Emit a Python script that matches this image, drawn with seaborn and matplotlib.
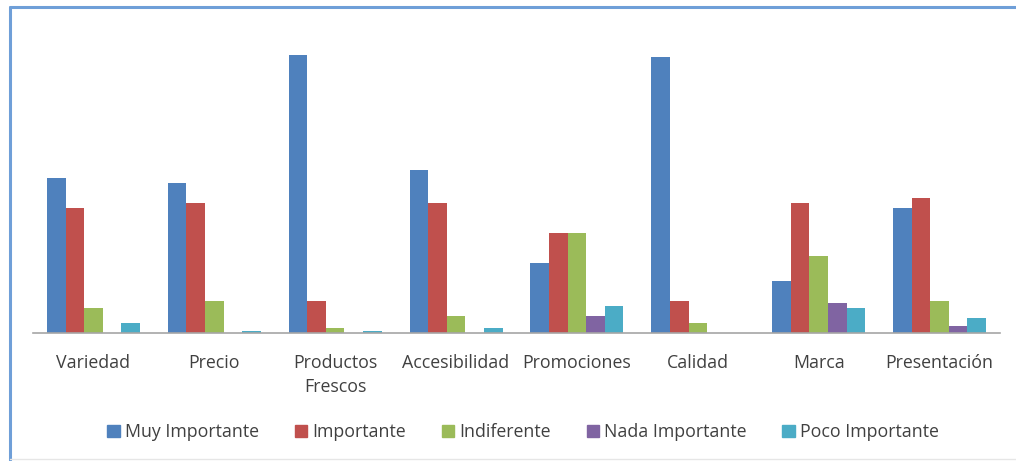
import pandas as pd
import seaborn as sns
import matplotlib.pyplot as plt
from matplotlib.lines import Line2D

# categories and series (bar heights)
categorias = ["Variedad", "Precio", "Productos\nFrescos", "Accesibilidad",
              "Promociones", "Calidad", "Marca", "Presentación"]
series = ["Muy Importante", "Importante", "Indiferente", "Nada Importante", "Poco Importante"]

muy_importante = [155, 150, 278, 163, 70, 276, 52, 125]
importante = [125, 130, 32, 130, 100, 32, 130, 135]
indiferente = [25, 32, 5, 17, 100, 10, 77, 32]
nada_importante = [0, 0, 0, 0, 17, 0, 30, 7]
poco_importante = [10, 2, 2, 5, 27, 0, 25, 15]

colores = ["#4F81BD", "#C0504D", "#9BBB59", "#8064A2", "#4BACC6"]

valores = [muy_importante, importante, indiferente, nada_importante, poco_importante]
filas = []
for s, vals in zip(series, valores):
    for c, v in zip(categorias, vals):
        filas.append({"Categoria": c, "Serie": s, "Valor": v})
df = pd.DataFrame(filas)

sns.set_style("white")
plt.rcParams['font.family'] = ['Open Sans', 'DejaVu Sans']

fig = plt.figure(figsize=(10.16, 4.61), dpi=100)
ax = fig.add_axes([33/1016, 1 - 333/461, (1000 - 33)/1016, (333 - 20)/461])

sns.barplot(data=df, x="Categoria", y="Valor", hue="Serie", palette=colores,
            width=0.77, gap=0, saturation=1, linewidth=0, ax=ax, legend=False)

ax.set_ylim(0, 313)
ax.set_xlim(-0.5, len(categorias) - 0.5)
ax.set_xlabel("")
ax.set_ylabel("")
ax.set_yticks([])
for s in ["top", "right", "left"]:
    ax.spines[s].set_visible(False)
ax.spines["bottom"].set_color("#a6a6a6")
ax.spines["bottom"].set_linewidth(1.2)

# category labels centred, tick marks at the boundaries
ax.set_xticks(range(len(categorias)))
ax.set_xticklabels(categorias, fontsize=12.8, color="#404040", linespacing=1.45)
ax.tick_params(axis="x", which="major", length=0, pad=15)
ax.set_xticks([i - 0.5 for i in range(len(categorias) + 1)], minor=True)
ax.tick_params(axis="x", which="minor", length=5, color="#a6a6a6", width=1)

handles = [plt.Rectangle((0, 0), 1, 1, color=c) for c in colores]
fig.legend(handles, series, loc="center", bbox_to_anchor=(0.515, 1 - 432/461),
           ncol=5, frameon=False, fontsize=12.8, handlelength=0.7, handleheight=0.7,
           handletextpad=0.3, columnspacing=2.0, labelcolor="#404040")

# chart border
fig.add_artist(Line2D([10/1016, 1.0], [1 - 7/461, 1 - 7/461], color="#6f9fd8", lw=2.2))
fig.add_artist(Line2D([10/1016, 10/1016], [1 - 7/461, 1 - 460/461], color="#6f9fd8", lw=2.2))
fig.add_artist(Line2D([10/1016, 1.0], [1 - 459/461, 1 - 459/461], color="#e6e6e6", lw=1))

fig.savefig("out.png", dpi=100)
